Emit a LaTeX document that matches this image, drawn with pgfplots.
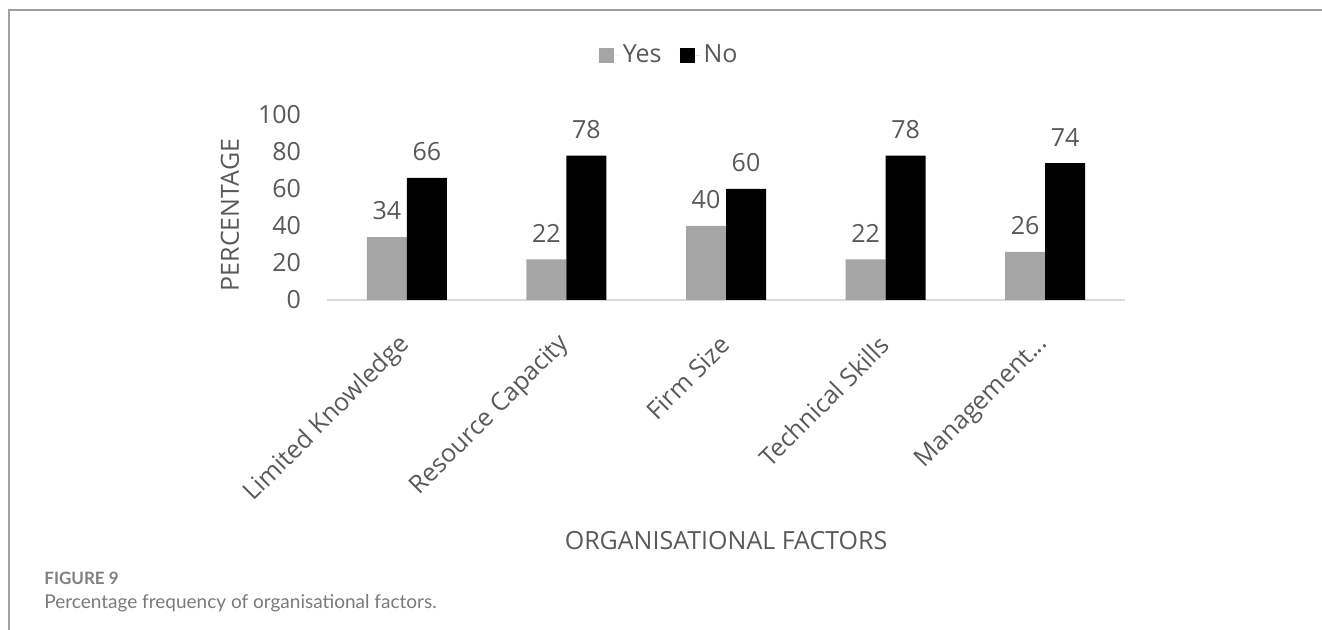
\documentclass[border=0pt]{standalone}
\usepackage{pgfplots}
\pgfplotsset{compat=1.18}
\usepackage{fontspec}
\setmainfont{Open Sans}
\newfontfamily\capfont{Lato}
\definecolor{txt}{HTML}{595959}
\definecolor{yesc}{HTML}{A5A5A5}
\definecolor{axc}{HTML}{D9D9D9}
\definecolor{frame}{HTML}{A0A0A0}
\begin{document}
\begin{tikzpicture}[x=1pt,y=1pt]
\useasboundingbox (0,0) rectangle (661,315);
\draw[frame, line width=0.8pt] (4.5,0) -- (4.5,310) -- (661,310);
\begin{axis}[
  at={(163.5pt,165pt)}, anchor=south west,
  scale only axis, width=399pt, height=92.5pt,
  xmin=-0.5, xmax=4.5, ymin=0, ymax=100,
  axis x line=bottom, axis y line=none,
  axis line style={axc, line width=0.8pt, -},
  x axis line style={-},
  /pgf/number format/assume math mode=true,
  ytick={0,20,40,60,80,100},
  xtick=data,
  xticklabels={Limited Knowledge, Resource Capacity, Firm Size, Technical Skills, {Management{.}{.}{.}}},
  xtick style={draw=none},
  xticklabel style={xshift=2pt, yshift=-13.5pt, rotate=45, anchor=east, font=\fontsize{12.5}{14}\selectfont, text=txt},
  ybar, bar width=20pt,
  nodes near coords,
  every node near coord/.append style={font=\fontsize{12.5}{14}\selectfont, text=txt, yshift=5pt},
  legend style={at={(0.43,1.324)}, anchor=center, draw=none, legend columns=2, font=\fontsize{12.5}{14}\selectfont, text=txt, /tikz/every even column/.append style={column sep=7pt}},
  legend image code/.code={\path (0pt,0pt) -- (10pt,0pt); \fill[#1] (0pt,-3.75pt) rectangle (7.5pt,3.75pt);},
  clip=false,
]
\addplot[fill=yesc, draw=none, bar shift=-10pt] coordinates {(0,34) (1,22) (2,40) (3,22) (4,26)};
\addplot[fill=black, draw=none, bar shift=10pt] coordinates {(0,66) (1,78) (2,60) (3,78) (4,74)};
\legend{Yes, No}
\end{axis}
\begin{scope}[font=\fontsize{12.5}{14}\selectfont, text=txt]
\foreach \v/\y in {0/165,20/183.5,40/202,60/220.5,80/239,100/257.5}
  \node[anchor=east] at (154,\y) {\v};
\node[rotate=90] at (115,207.5) {PERCENTAGE};
\node at (363,44.5) {ORGANISATIONAL FACTORS};
\end{scope}
\node[anchor=west, font=\capfont\bfseries\fontsize{8.5}{10}\selectfont, text=gray, inner sep=0] at (22,26) {FIGURE 9};
\node[anchor=west, font=\capfont\fontsize{9.5}{11}\selectfont, text=txt!80, inner sep=0] at (22,13.5) {Percentage frequency of organisational factors.};
\end{tikzpicture}
\end{document}
